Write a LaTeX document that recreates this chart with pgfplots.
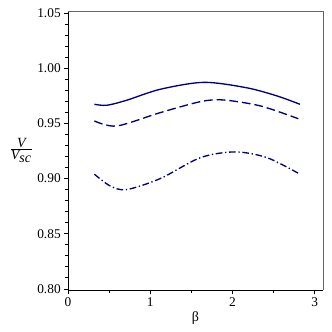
\documentclass[border=0pt]{standalone}
\usepackage{fontspec}
\setmainfont{Liberation Serif}
\usepackage{pgfplots}
\pgfplotsset{compat=1.18}
\definecolor{maplenavy}{RGB}{0,0,128}

\begin{document}
\begin{tikzpicture}
\useasboundingbox (-51pt,-31.5pt) rectangle (197.75pt,217.25pt);
\begin{axis}[
    at={(0,0)}, anchor=south west,
    scale only axis,
    width=191pt, height=209pt,
    xmin=0, xmax=3.1,
    ymin=0.799, ymax=1.052,
    axis x line*=bottom, axis y line*=left,
    axis line style={black, line width=0.6pt},
    xtick={0,1,2,3},
    minor xtick={0.5,1.5,2.5},
    ytick={0.80,0.85,0.90,0.95,1.00,1.05},
    minor ytick={0.81,0.82,0.83,0.84,0.86,0.87,0.88,0.89,0.91,0.92,0.93,0.94,0.96,0.97,0.98,0.99,1.01,1.02,1.03,1.04},
    tick align=outside,
    major tick length=3pt, minor tick length=2pt,
    tick style={black, line width=0.5pt},
    yticklabel style={/pgf/number format/fixed, /pgf/number format/fixed zerofill, /pgf/number format/precision=2, xshift=1pt},
    /pgf/number format/assume math mode=true,
    ticklabel style={font=\fontsize{10}{12}\selectfont},
    xticklabel style={yshift=1pt},
    xlabel={β},
    xlabel style={font=\fontsize{10.5}{12}\selectfont, yshift=3pt},
    ylabel={$\frac{\textit{V}}{\textit{V}_{\textit{sc}}}$},
    ylabel style={rotate=-90, at={(axis description cs:0,0.5)}, anchor=center, xshift=-35pt, font=\fontsize{10.5}{12}\selectfont},
    clip=false,
]
\draw[gray!80!black, line width=0.6pt] (rel axis cs:0,1) -- (rel axis cs:1,1) -- (rel axis cs:1,0);
% solid
\addplot[maplenavy, line width=1pt, smooth] coordinates {
    (0.32,0.9674) (0.47,0.9665) (0.71,0.971) (1.12,0.981) (1.65,0.9873)
    (2.17,0.9824) (2.54,0.975) (2.82,0.9674)
};
% dashed
\addplot[maplenavy, line width=1pt, smooth, dash pattern=on 6.5pt off 3pt] coordinates {
    (0.32,0.9523) (0.59,0.9477) (1.12,0.9598) (1.61,0.9698) (1.89,0.9713)
    (2.34,0.9659) (2.80,0.9543)
};
% dash-dot
\addplot[maplenavy, line width=1pt, smooth, dash pattern=on 5pt off 2pt on 1pt off 2pt] coordinates {
    (0.32,0.904) (0.51,0.8934) (0.71,0.890) (1.12,0.900) (1.61,0.919)
    (2.03,0.9242) (2.42,0.919) (2.82,0.904)
};
\end{axis}
\end{tikzpicture}
\end{document}
